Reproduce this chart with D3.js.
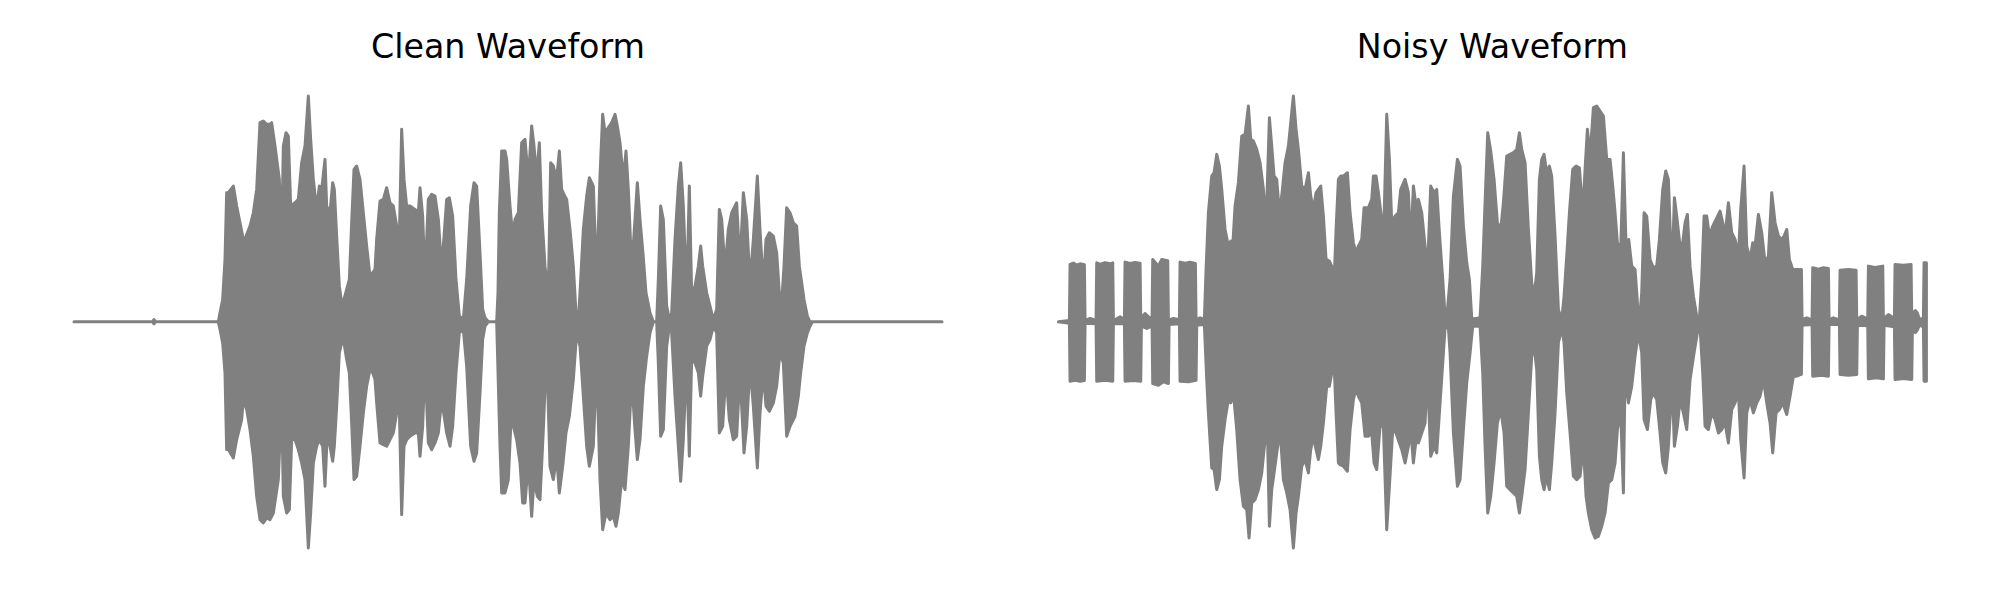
<!DOCTYPE html>
<html><head><meta charset="utf-8">
<script src="https://cdn.jsdelivr.net/npm/d3@7"></script>
<style>html,body{margin:0;padding:0;background:#fff}svg{display:block}</style>
</head><body>
<svg id="chart" width="2000" height="600"></svg>
<script>
// Titles of the two panels
const titles = ["Clean Waveform", "Noisy Waveform"];
// Clip duration (ms)
const duration = 2604;

// Envelopes: [time in ms, amplitude]
const cleanUpper = [[0,0],[236,0],[240,0.007],[244,0],[433,0],[438,0.027],[446,0.067],[453,0.187],[458,0.387],[463,0.387],[478,0.407],[488,0.347],[498,0.297],[506,0.257],[510,0.237],[518,0.262],[528,0.287],[538,0.327],[548,0.397],[558,0.597],[568,0.602],[578,0.592],[588,0.592],[593,0.597],[603,0.527],[616,0.427],[623,0.247],[628,0.527],[636,0.567],[643,0.557],[650,0.347],[663,0.357],[673,0.367],[683,0.477],[693,0.527],[703,0.677],[710,0.547],[718,0.427],[728,0.337],[736,0.407],[743,0.397],[753,0.487],[758,0.347],[768,0.327],[776,0.417],[781,0.397],[788,0.257],[796,0.107],[803,0.057],[810,0.067],[818,0.097],[826,0.127],[833,0.297],[840,0.457],[848,0.467],[858,0.427],[868,0.327],[878,0.227],[888,0.137],[896,0.147],[903,0.157],[908,0.247],[918,0.362],[928,0.367],[938,0.402],[948,0.357],[958,0.347],[968,0.287],[975,0.207],[983,0.577],[990,0.427],[998,0.347],[1008,0.347],[1023,0.337],[1033,0.327],[1038,0.402],[1046,0.317],[1053,0.127],[1063,0.367],[1073,0.382],[1083,0.377],[1093,0.307],[1103,0.157],[1118,0.367],[1126,0.372],[1136,0.317],[1146,0.127],[1156,0.017],[1168,0.007],[1178,0.127],[1190,0.347],[1200,0.417],[1208,0.407],[1218,0.207],[1226,0.037],[1233,0.012],[1243,0],[1268,0],[1272,0.087],[1276,0.327],[1283,0.512],[1293,0.512],[1298,0.487],[1308,0.347],[1316,0.257],[1323,0.307],[1333,0.327],[1343,0.537],[1353,0.547],[1363,0.427],[1373,0.587],[1380,0.527],[1388,0.437],[1396,0.537],[1403,0.327],[1413,0.167],[1423,0.087],[1430,0.477],[1438,0.467],[1448,0.427],[1456,0.512],[1463,0.397],[1470,0.382],[1478,0.367],[1488,0.277],[1498,0.167],[1506,0.027],[1513,0.005],[1518,0.087],[1528,0.277],[1538,0.377],[1546,0.432],[1558,0.407],[1568,0.127],[1578,0.437],[1586,0.622],[1593,0.567],[1603,0.582],[1613,0.597],[1623,0.622],[1630,0.587],[1638,0.537],[1648,0.427],[1656,0.512],[1663,0.397],[1673,0.157],[1683,0.307],[1690,0.417],[1698,0.307],[1708,0.192],[1716,0.087],[1728,0.027],[1738,0],[1748,0],[1753,0.127],[1760,0.347],[1768,0.307],[1778,0.047],[1788,0],[1793,0.027],[1803,0.247],[1813,0.407],[1820,0.477],[1828,0.347],[1838,0.077],[1846,0.407],[1853,0.087],[1863,0.107],[1873,0.167],[1880,0.227],[1886,0.167],[1898,0.087],[1908,0.047],[1918,0.007],[1928,0.037],[1936,0.337],[1943,0.307],[1953,0.157],[1963,0.277],[1973,0.327],[1988,0.357],[1998,0.167],[2008,0.387],[2018,0.307],[2028,0.117],[2038,0.247],[2050,0.437],[2058,0.277],[2068,0.107],[2076,0.247],[2086,0.267],[2098,0.257],[2108,0.207],[2116,0.087],[2123,0.057],[2130,0.167],[2138,0.342],[2148,0.327],[2158,0.297],[2168,0.287],[2176,0.167],[2183,0.117],[2190,0.067],[2200,0.017],[2208,0],[2604,0]];

const cleanLower = [[0,0],[236,0],[240,-0.006],[244,0],[433,0],[438,-0.023],[446,-0.063],[453,-0.153],[458,-0.383],[463,-0.383],[478,-0.408],[488,-0.353],[503,-0.293],[508,-0.233],[518,-0.263],[528,-0.323],[538,-0.403],[548,-0.523],[558,-0.593],[568,-0.603],[578,-0.588],[588,-0.593],[598,-0.573],[613,-0.473],[623,-0.233],[628,-0.523],[638,-0.573],[646,-0.563],[653,-0.353],[663,-0.353],[673,-0.383],[683,-0.423],[693,-0.473],[703,-0.678],[710,-0.573],[718,-0.423],[728,-0.373],[736,-0.353],[746,-0.373],[753,-0.493],[760,-0.333],[768,-0.373],[776,-0.418],[781,-0.373],[788,-0.253],[796,-0.093],[803,-0.063],[810,-0.063],[818,-0.113],[826,-0.153],[833,-0.303],[840,-0.473],[848,-0.463],[858,-0.373],[868,-0.273],[878,-0.193],[888,-0.143],[896,-0.153],[903,-0.173],[908,-0.243],[918,-0.363],[928,-0.368],[938,-0.373],[948,-0.353],[958,-0.333],[968,-0.273],[975,-0.213],[983,-0.578],[990,-0.373],[998,-0.353],[1008,-0.343],[1023,-0.333],[1033,-0.333],[1038,-0.403],[1046,-0.313],[1053,-0.123],[1063,-0.363],[1073,-0.383],[1083,-0.363],[1093,-0.333],[1103,-0.233],[1118,-0.333],[1128,-0.373],[1136,-0.313],[1146,-0.153],[1156,-0.033],[1168,-0.023],[1178,-0.133],[1190,-0.373],[1200,-0.418],[1208,-0.393],[1218,-0.213],[1226,-0.053],[1233,-0.013],[1243,0],[1268,0],[1270,-0.073],[1278,-0.373],[1283,-0.513],[1293,-0.513],[1303,-0.473],[1313,-0.253],[1318,-0.313],[1328,-0.353],[1338,-0.423],[1346,-0.543],[1353,-0.543],[1363,-0.423],[1373,-0.583],[1380,-0.473],[1390,-0.523],[1398,-0.533],[1408,-0.323],[1418,-0.083],[1428,-0.433],[1438,-0.473],[1448,-0.403],[1456,-0.513],[1466,-0.433],[1476,-0.333],[1486,-0.283],[1498,-0.173],[1508,-0.033],[1518,-0.073],[1528,-0.223],[1538,-0.373],[1546,-0.433],[1558,-0.373],[1568,-0.123],[1578,-0.473],[1586,-0.623],[1596,-0.573],[1608,-0.593],[1618,-0.583],[1626,-0.613],[1633,-0.573],[1643,-0.473],[1653,-0.503],[1663,-0.373],[1673,-0.173],[1683,-0.323],[1690,-0.413],[1698,-0.353],[1708,-0.193],[1718,-0.103],[1728,-0.033],[1738,0],[1748,0],[1753,-0.123],[1760,-0.343],[1768,-0.323],[1778,-0.073],[1788,0],[1793,-0.033],[1803,-0.223],[1813,-0.373],[1820,-0.478],[1828,-0.353],[1838,-0.113],[1846,-0.403],[1853,-0.113],[1863,-0.123],[1873,-0.153],[1880,-0.223],[1886,-0.163],[1898,-0.073],[1908,-0.053],[1918,-0.013],[1928,-0.033],[1936,-0.333],[1946,-0.313],[1956,-0.153],[1966,-0.293],[1978,-0.353],[1988,-0.343],[1998,-0.153],[2010,-0.393],[2018,-0.313],[2028,-0.133],[2038,-0.253],[2050,-0.438],[2058,-0.273],[2068,-0.153],[2076,-0.253],[2086,-0.268],[2098,-0.243],[2108,-0.193],[2118,-0.093],[2128,-0.123],[2138,-0.343],[2148,-0.313],[2163,-0.283],[2173,-0.223],[2180,-0.153],[2190,-0.073],[2200,-0.033],[2208,-0.013],[2215,0],[2604,0]];

const noisyUpper = [[0,0],[33,0.004],[35,0.172],[45,0.176],[55,0.170],[65,0.174],[78,0.171],[80,0.004],[95,0.010],[113,0.005],[115,0.177],[125,0.172],[140,0.177],[155,0.174],[163,0.177],[165,0.004],[185,0.015],[198,0.006],[200,0.179],[215,0.175],[230,0.178],[245,0.176],[247,0.010],[260,0.025],[270,0.015],[281,0.010],[283,0.187],[300,0.167],[310,0.187],[328,0.183],[330,0.006],[345,0.010],[363,0.006],[365,0.179],[380,0.176],[395,0.179],[411,0.175],[413,0.006],[425,0.012],[436,0.008],[438,0.010],[443,0.157],[450,0.327],[460,0.437],[467,0.447],[475,0.502],[483,0.467],[490,0.397],[500,0.277],[510,0.227],[517,0.242],[523,0.227],[530,0.347],[540,0.417],[550,0.557],[560,0.562],[570,0.647],[577,0.547],[585,0.542],[595,0.517],[605,0.477],[615,0.397],[623,0.287],[633,0.612],[640,0.527],[647,0.437],[655,0.427],[663,0.327],[670,0.377],[680,0.477],[690,0.527],[698,0.607],[705,0.677],[713,0.577],[720,0.517],[730,0.407],[740,0.397],[750,0.447],[757,0.377],[765,0.337],[773,0.387],[780,0.397],[787,0.407],[795,0.317],[803,0.187],[813,0.182],[820,0.167],[827,0.117],[833,0.277],[840,0.427],[847,0.437],[855,0.437],[867,0.447],[875,0.327],[885,0.237],[893,0.207],[900,0.227],[910,0.247],[917,0.342],[930,0.342],[940,0.367],[945,0.437],[953,0.437],[960,0.387],[970,0.307],[977,0.307],[985,0.622],[993,0.487],[1000,0.297],[1010,0.317],[1020,0.327],[1027,0.397],[1040,0.427],[1050,0.387],[1057,0.227],[1065,0.407],[1073,0.347],[1080,0.367],[1090,0.327],[1100,0.227],[1107,0.147],[1117,0.407],[1127,0.387],[1135,0.397],[1143,0.267],[1153,0.127],[1160,0.017],[1165,0.012],[1175,0.127],[1185,0.377],[1197,0.487],[1205,0.467],[1215,0.287],[1225,0.177],[1233,0.127],[1240,0.012],[1250,0.009],[1265,0.012],[1273,0.167],[1280,0.357],[1288,0.567],[1297,0.512],[1307,0.427],[1317,0.297],[1327,0.277],[1335,0.357],[1345,0.497],[1355,0.502],[1365,0.507],[1375,0.517],[1383,0.567],[1390,0.517],[1400,0.477],[1410,0.277],[1420,0.117],[1427,0.077],[1435,0.147],[1443,0.427],[1450,0.487],[1457,0.502],[1465,0.447],[1473,0.467],[1480,0.437],[1490,0.257],[1500,0.037],[1510,0.005],[1517,0.077],[1525,0.197],[1533,0.327],[1543,0.457],[1553,0.467],[1563,0.462],[1573,0.327],[1580,0.457],[1587,0.577],[1595,0.497],[1605,0.642],[1615,0.647],[1625,0.632],[1635,0.617],[1645,0.487],[1655,0.487],[1663,0.407],[1670,0.327],[1677,0.237],[1687,0.217],[1695,0.507],[1703,0.227],[1711,0.247],[1720,0.167],[1730,0.157],[1735,0.087],[1740,0.012],[1745,0.027],[1750,0.087],[1757,0.327],[1765,0.317],[1775,0.187],[1785,0.162],[1795,0.167],[1803,0.247],[1813,0.397],[1822,0.452],[1830,0.427],[1837,0.227],[1843,0.217],[1848,0.372],[1855,0.317],[1865,0.227],[1873,0.237],[1880,0.297],[1887,0.322],[1895,0.167],[1905,0.077],[1915,0.017],[1923,0.007],[1930,0.127],[1937,0.317],[1945,0.317],[1953,0.257],[1963,0.287],[1973,0.307],[1985,0.332],[1993,0.297],[2000,0.257],[2010,0.357],[2020,0.267],[2030,0.247],[2040,0.197],[2047,0.337],[2057,0.467],[2065,0.227],[2075,0.187],[2083,0.237],[2090,0.227],[2100,0.322],[2110,0.267],[2120,0.177],[2130,0.197],[2140,0.387],[2150,0.297],[2160,0.257],[2170,0.247],[2177,0.257],[2185,0.277],[2193,0.187],[2203,0.157],[2213,0.157],[2225,0.157],[2229,0.157],[2231,0.007],[2245,0.012],[2261,0.006],[2263,0.162],[2280,0.158],[2295,0.162],[2310,0.160],[2312,0.006],[2325,0.012],[2343,0.006],[2345,0.155],[2370,0.157],[2393,0.155],[2395,0.006],[2410,0.017],[2428,0.008],[2430,0.167],[2450,0.163],[2473,0.167],[2475,0.008],[2490,0.022],[2508,0.010],[2510,0.172],[2535,0.170],[2558,0.172],[2560,0.012],[2565,0.028],[2571,0.034],[2577,0.026],[2583,0.008],[2595,0.010],[2597,0.177],[2604,0.177]];

const noisyLower = [[0,0],[33,-0.004],[35,-0.178],[50,-0.175],[65,-0.178],[78,-0.176],[80,-0.004],[113,-0.006],[115,-0.178],[140,-0.175],[163,-0.178],[165,-0.006],[198,-0.006],[200,-0.178],[225,-0.176],[247,-0.178],[249,-0.012],[265,-0.020],[281,-0.012],[283,-0.185],[300,-0.190],[315,-0.180],[330,-0.185],[332,-0.008],[363,-0.006],[365,-0.178],[390,-0.180],[413,-0.175],[415,-0.010],[436,-0.008],[438,-0.010],[445,-0.173],[450,-0.273],[460,-0.438],[467,-0.443],[475,-0.503],[483,-0.473],[490,-0.373],[500,-0.293],[510,-0.233],[517,-0.243],[525,-0.213],[535,-0.323],[545,-0.473],[555,-0.553],[565,-0.563],[572,-0.648],[580,-0.543],[590,-0.533],[600,-0.503],[610,-0.453],[620,-0.353],[627,-0.323],[633,-0.613],[640,-0.503],[647,-0.453],[655,-0.393],[665,-0.323],[675,-0.473],[685,-0.513],[695,-0.563],[705,-0.678],[713,-0.573],[720,-0.523],[730,-0.433],[740,-0.413],[750,-0.453],[757,-0.383],[765,-0.343],[773,-0.383],[780,-0.413],[787,-0.373],[795,-0.303],[805,-0.193],[813,-0.193],[820,-0.153],[827,-0.123],[833,-0.273],[840,-0.423],[845,-0.428],[855,-0.433],[867,-0.448],[875,-0.323],[885,-0.233],[893,-0.198],[900,-0.223],[910,-0.243],[920,-0.343],[930,-0.343],[940,-0.333],[947,-0.423],[955,-0.443],[965,-0.313],[975,-0.313],[985,-0.623],[993,-0.493],[1003,-0.323],[1013,-0.333],[1023,-0.363],[1030,-0.383],[1040,-0.423],[1050,-0.373],[1057,-0.323],[1065,-0.423],[1073,-0.353],[1080,-0.363],[1090,-0.333],[1100,-0.303],[1107,-0.153],[1117,-0.403],[1127,-0.373],[1135,-0.393],[1143,-0.273],[1153,-0.123],[1160,-0.018],[1170,-0.018],[1175,-0.093],[1185,-0.333],[1197,-0.493],[1205,-0.473],[1215,-0.323],[1225,-0.183],[1235,-0.093],[1243,-0.013],[1265,-0.013],[1273,-0.153],[1280,-0.373],[1288,-0.573],[1297,-0.523],[1307,-0.423],[1317,-0.303],[1327,-0.263],[1337,-0.333],[1345,-0.493],[1355,-0.503],[1365,-0.513],[1375,-0.523],[1383,-0.573],[1390,-0.523],[1400,-0.443],[1410,-0.273],[1420,-0.103],[1427,-0.073],[1435,-0.143],[1443,-0.403],[1450,-0.473],[1457,-0.503],[1465,-0.463],[1473,-0.503],[1480,-0.423],[1490,-0.273],[1500,-0.063],[1510,-0.018],[1517,-0.063],[1525,-0.213],[1535,-0.333],[1545,-0.463],[1555,-0.473],[1565,-0.463],[1575,-0.373],[1583,-0.523],[1590,-0.573],[1600,-0.623],[1610,-0.648],[1620,-0.643],[1630,-0.613],[1640,-0.573],[1650,-0.483],[1660,-0.473],[1670,-0.423],[1677,-0.323],[1687,-0.273],[1695,-0.513],[1700,-0.153],[1710,-0.243],[1720,-0.193],[1730,-0.103],[1740,-0.033],[1750,-0.093],[1757,-0.293],[1767,-0.323],[1777,-0.233],[1785,-0.213],[1795,-0.233],[1805,-0.333],[1813,-0.423],[1822,-0.453],[1830,-0.373],[1837,-0.253],[1843,-0.233],[1848,-0.373],[1857,-0.313],[1865,-0.233],[1875,-0.273],[1885,-0.323],[1895,-0.173],[1907,-0.093],[1917,-0.033],[1925,-0.018],[1933,-0.153],[1940,-0.313],[1950,-0.323],[1960,-0.273],[1970,-0.293],[1980,-0.333],[1990,-0.323],[2000,-0.303],[2010,-0.363],[2020,-0.263],[2030,-0.243],[2040,-0.213],[2047,-0.353],[2057,-0.468],[2065,-0.273],[2075,-0.233],[2085,-0.273],[2095,-0.243],[2105,-0.223],[2115,-0.173],[2125,-0.243],[2135,-0.303],[2143,-0.393],[2153,-0.273],[2163,-0.263],[2173,-0.243],[2185,-0.278],[2195,-0.223],[2205,-0.163],[2215,-0.163],[2225,-0.158],[2229,-0.158],[2231,-0.010],[2261,-0.008],[2263,-0.163],[2290,-0.160],[2310,-0.163],[2312,-0.008],[2343,-0.008],[2345,-0.158],[2370,-0.160],[2395,-0.158],[2397,-0.010],[2428,-0.012],[2430,-0.171],[2455,-0.168],[2475,-0.171],[2477,-0.010],[2508,-0.015],[2510,-0.173],[2535,-0.170],[2560,-0.173],[2562,-0.014],[2566,-0.026],[2571,-0.032],[2577,-0.024],[2583,-0.010],[2595,-0.015],[2597,-0.178],[2604,-0.178]];

const panels = [
  {title: titles[0], upper: cleanUpper, lower: cleanLower},
  {title: titles[1], upper: noisyUpper, lower: noisyLower}
];

const svg = d3.select("#chart");
const axW = 954.8, axH = 497.2, axTop = 73.4;
const axLefts = [30.6, 1015];
const color = "#808080";

panels.forEach((p, i) => {
  const left = axLefts[i];
  const mx = axW / 22, my = axH / 22; // 5% autoscale margins
  const x = d3.scaleLinear().domain([0, duration]).range([left + mx, left + axW - mx]);
  const yMin = d3.min(p.lower, d => d[1]);
  const yMax = d3.max(p.upper, d => d[1]);
  const y = d3.scaleLinear().domain([yMin, yMax]).range([axTop + axH - my, axTop + my]);

  const line = d3.line().x(d => x(d[0])).y(d => y(d[1]));
  const pts = p.upper.concat(p.lower.slice().reverse());
  svg.append("path")
    .attr("d", line(pts) + "Z")
    .attr("fill", color)
    .attr("stroke", color)
    .attr("stroke-width", 3)
    .attr("stroke-linejoin", "round");

  svg.append("text")
    .attr("x", left + axW / 2)
    .attr("y", 58)
    .attr("text-anchor", "middle")
    .attr("font-family", "DejaVu Sans, sans-serif")
    .attr("font-size", "33.3px")
    .attr("fill", "#000")
    .text(p.title);
});
</script>
</body></html>
